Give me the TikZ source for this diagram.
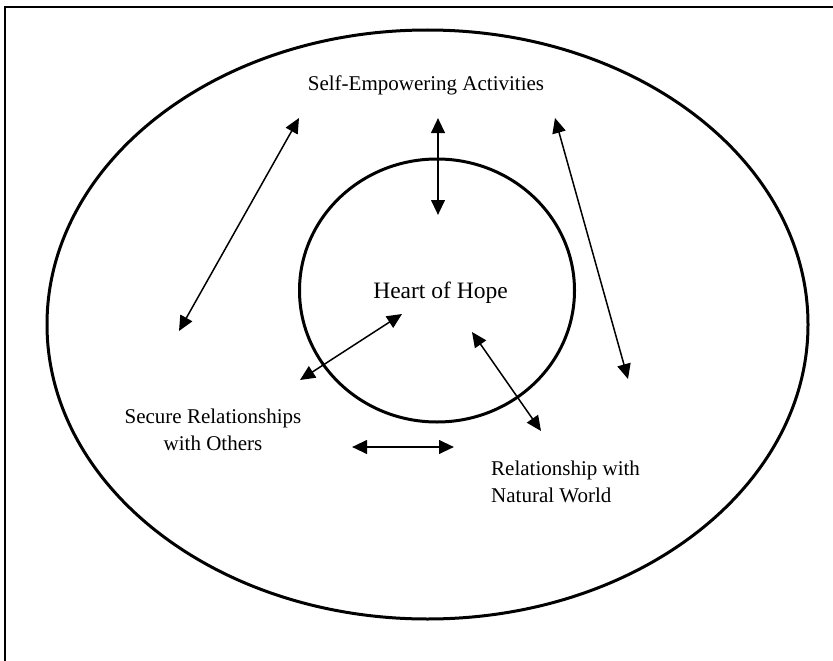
\documentclass[tikz,border=0pt]{standalone}
\usepackage{fontspec}
\setmainfont{Liberation Serif}
\usetikzlibrary{arrows.meta}
\begin{document}
\begin{tikzpicture}[x=1pt,y=-1pt,
  lbl/.style={font=\fontsize{21}{25}\selectfont, inner sep=0pt, anchor=base},
  lblw/.style={lbl, anchor=base west},
  dblarrow/.style={{Triangle[length=15pt,width=13.5pt]}-{Triangle[length=15pt,width=13.5pt]}, line width=1.5pt},
  dblthick/.style={dblarrow, line width=2.5pt},
  ring/.style={line width=3pt}]
\useasboundingbox (0,0) rectangle (833,661);
\fill[white] (0,0) rectangle (833,661);
% border (left and top edges)
\draw[line width=2pt] (5,661) -- (5,7.5) -- (833,7.5);
% outer ellipse and inner circle
\draw[ring] (427.5,324.5) ellipse [x radius=380.5pt, y radius=294.5pt];
\draw[ring] (437,290.5) ellipse [x radius=137.5pt, y radius=131.5pt];
% texts
\node[lbl] (sea) at (426,91) {Self-Empowering Activities};
\node[lbl, font=\fontsize{23.5}{28}\selectfont] (hoh) at (440.5,298.3) {Heart of Hope};
\node[lbl] (sro1) at (213,423) {Secure Relationships};
\node[lbl] (sro2) at (213,450) {with Others};
\node[lblw] (rnw1) at (491,475) {Relationship with};
\node[lblw] (rnw2) at (491,502) {Natural World};
% arrow end points
\coordinate (a1s) at (299,118); \coordinate (a1e) at (179,331);
\coordinate (a2s) at (438,118); \coordinate (a2e) at (438,215);
\coordinate (a3s) at (555,118); \coordinate (a3e) at (628,379);
\coordinate (a4s) at (402,314); \coordinate (a4e) at (300,380);
\coordinate (a5s) at (472,332); \coordinate (a5e) at (541,431);
\coordinate (a6s) at (352,447); \coordinate (a6e) at (454,447);
% arrows
\draw[dblarrow] (a1s) -- (a1e);
\draw[dblthick] (a2s) -- (a2e);
\draw[dblarrow] (a3s) -- (a3e);
\draw[dblarrow] (a4s) -- (a4e);
\draw[dblarrow] (a5s) -- (a5e);
\draw[dblthick] (a6s) -- (a6e);
\end{tikzpicture}
\end{document}
